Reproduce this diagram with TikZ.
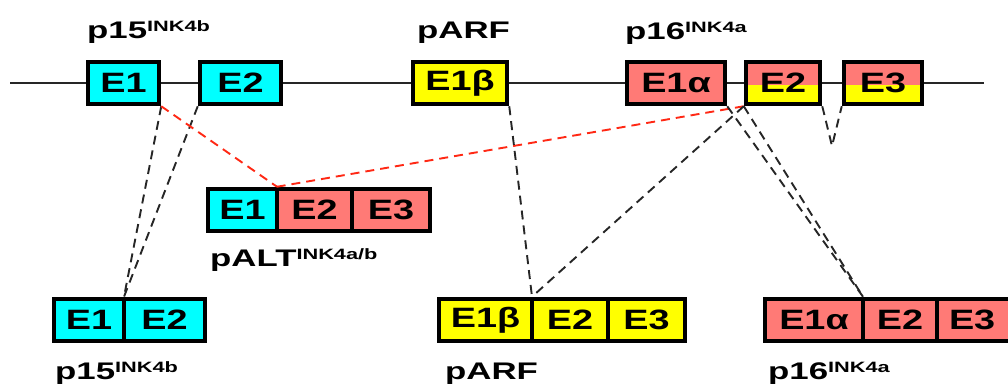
\documentclass[tikz,border=0pt]{standalone}
\usepackage{fontspec}
\usetikzlibrary{calc}
\newfontfamily\boxfont{Liberation Sans}[FakeStretch=1.35]
\newfontfamily\labfont{Liberation Sans}[FakeStretch=1.45]
\definecolor{salmon}{RGB}{255,122,118}
\definecolor{cyanx}{RGB}{0,255,255}
\definecolor{yellowx}{RGB}{255,255,0}
\definecolor{redx}{RGB}{255,40,20}
\tikzset{
  exon/.style={draw=black, line width=4.5pt, inner sep=0pt, minimum height=42pt,
    font=\boxfont\bfseries\fontsize{28}{28}\selectfont},
  lab/.style={anchor=base west, inner sep=0pt, font=\labfont\bfseries\fontsize{24}{24}\selectfont},
  blk/.style={draw=black!85, line width=1.9pt, dash pattern=on 9pt off 6pt},
  rdl/.style={draw=redx, line width=1.9pt, dash pattern=on 9pt off 6pt},
  split/.style={path picture={\fill[yellowx] ([yshift=-2pt]path picture bounding box.west) rectangle (path picture bounding box.south east);}}
}
\newcommand{\sups}[1]{\raisebox{7pt}{\fontsize{15}{15}\selectfont #1}}
\begin{document}
\begin{tikzpicture}[x=1pt,y=-1pt]
\useasboundingbox (0,0) rectangle (1008,388);
% genomic line
\coordinate (ls) at (10,83);
\coordinate (le) at (984,83);
\draw[line width=2.2pt, black!85] (ls) -- (le);
% top exons
\node[exon, fill=cyanx, minimum width=71pt] (a1) at (123.5,83) {E1};
\node[exon, fill=cyanx, minimum width=81pt] (a2) at (240.5,83) {E2};
\node[exon, fill=yellowx, minimum width=94pt] (b1) at (460,83) {E1β};
\node[exon, fill=salmon, minimum width=98pt] (c1) at (676,83) {E1α};
\node[exon, fill=salmon, split, minimum width=74pt] (c2) at (783,83) {E2};
\node[exon, fill=salmon, split, minimum width=78pt] (c3) at (883,83) {E3};
% top labels
\node[lab] (la) at (87,38) {p15\sups{INK4b}};
\node[lab] (lb) at (417,38) {pARF};
\node[lab] (lc) at (625,39) {p16\sups{INK4a}};
% pALT
\node[exon, fill=cyanx, minimum width=69pt] (p1) at (242.5,210) {E1};
\node[exon, fill=salmon, minimum width=75pt] (p2) at (314.5,210) {E2};
\node[exon, fill=salmon, minimum width=78pt] (p3) at (391,210) {E3};
\node[lab] (lp) at (210,266) {pALT\sups{INK4a/b}};
% bottom p15
\node[exon, fill=cyanx, minimum width=70pt] (q1) at (89,320) {E1};
\node[exon, fill=cyanx, minimum width=81pt] (q2) at (164.5,320) {E2};
\node[lab] (lq) at (55,379) {p15\sups{INK4b}};
% bottom pARF
\node[exon, fill=yellowx, minimum width=93pt] (r1) at (485.5,320) {E1β};
\node[exon, fill=yellowx, minimum width=76pt] (r2) at (570,320) {E2};
\node[exon, fill=yellowx, minimum width=77pt] (r3) at (646.5,320) {E3};
\node[lab] (lr) at (445,379) {pARF};
% bottom p16
\node[exon, fill=salmon, minimum width=98pt] (s1) at (814,320) {E1α};
\node[exon, fill=salmon, minimum width=74pt] (s2) at (900,320) {E2};
\node[exon, fill=salmon, minimum width=84pt, text width=70pt, align=left] (s3) at (979,320) {\hspace*{5pt}E3};
\node[lab] (ls16) at (768,379) {p16\sups{INK4a}};
% junction coordinates
\coordinate (jq) at ($(q1.north east)!0.5!(q2.north west)$);
\coordinate (jp) at ($(p1.north east)!0.5!(p2.north west)$);
\coordinate (jr) at ($(r1.north east)!0.5!(r2.north west)$);
\coordinate (js) at ($(s1.north east)!0.5!(s2.north west)$);
\coordinate (vv) at (832,146);
% connectors
\draw[blk] (a1.south east) -- (jq);
\draw[blk] (a2.south west) -- (jq);
\draw[rdl] (a1.south east) -- (jp);
\draw[rdl] (c2.south west) -- (jp);
\draw[blk] (b1.south east) -- (jr);
\draw[blk] (c2.south west) -- (jr);
\draw[blk] (c1.south east) -- (js);
\draw[blk] (c2.south west) -- (js);
\draw[blk] (c2.south east) -- (vv) -- (c3.south west);
\end{tikzpicture}
\end{document}
